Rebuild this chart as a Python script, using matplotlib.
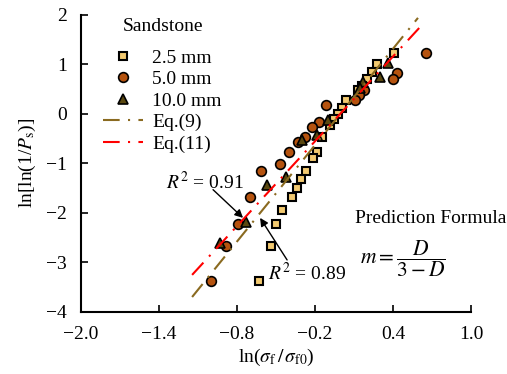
import matplotlib
matplotlib.use("Agg")
import matplotlib.pyplot as plt
import numpy as np

plt.rcParams['font.family'] = ['Liberation Serif', 'DejaVu Serif']
plt.rcParams['mathtext.fontset'] = 'stix'

# 2.5 mm
x25 = [0.408, 0.277, 0.238, 0.200, 0.162, 0.131, 0.038, 0.008, -0.023, -0.054, -0.085,
       -0.146, -0.185, -0.215, -0.269, -0.308, -0.338, -0.377, -0.454, -0.500, -0.538, -0.631]
y25 = [1.23, 1.01, 0.85, 0.71, 0.57, 0.48, 0.28, 0.12, 0.00, -0.10, -0.22,
       -0.46, -0.77, -0.89, -1.15, -1.31, -1.49, -1.68, -1.94, -2.22, -2.67, -3.37]
# 5.0 mm
x50 = [0.654, 0.431, 0.400, 0.177, 0.138, 0.108, -0.115, -0.169, -0.223, -0.277, -0.331,
       -0.400, -0.469, -0.615, -0.700, -0.792, -0.885, -1.000]
y50 = [1.23, 0.83, 0.71, 0.48, 0.38, 0.28, 0.18, -0.16, -0.26, -0.46, -0.57,
       -0.77, -1.01, -1.15, -1.68, -2.22, -2.67, -3.37]
# 10.0 mm
x10 = [0.362, 0.300, 0.169, 0.146, -0.100, -0.185, -0.300, -0.423, -0.569, -0.731, -0.931]
y10 = [1.03, 0.75, 0.65, 0.53, -0.12, -0.42, -0.53, -1.27, -1.43, -2.18, -2.61]

# fitted lines (slope, intercept, x range)
eq9_slope, eq9_int, eq9_x = 3.245, 0.02, [-1.146, 0.592]
eq11_slope, eq11_int, eq11_x = 2.855, 0.02, [-1.146, 0.623]

xticks = [-2.0, -1.4, -0.8, -0.2, 0.4, 1.0]
yticks = [-4, -3, -2, -1, 0, 1, 2]

FS = 14

fig = plt.figure(figsize=(5.07, 3.74), dpi=100)
ax = fig.add_axes([0.16, 0.166, 0.769, 0.794])

ax.plot(x25, y25, 's', ms=6.3, mfc='#f2c970', mec='black', mew=1.5, label='2.5 mm', zorder=3)
ax.plot(x50, y50, 'o', ms=7, mfc='#b5530f', mec='black', mew=1.2, label='5.0 mm', zorder=3)
ax.plot(x10, y10, '^', ms=7, mfc='#5a4810', mec='black', mew=1.2, label='10.0 mm', zorder=3)

xa = np.array(eq9_x)
ax.plot(xa, eq9_slope * xa + eq9_int, color='#8a6a20', lw=1.5,
        dashes=(8, 4, 1, 4), label='Eq.(9)', zorder=4)
xb = np.array(eq11_x)
ax.plot(xb, eq11_slope * xb + eq11_int, color='#ff0000', lw=1.5,
        dashes=(8, 4, 1, 4), label='Eq.(11)', zorder=4)

ax.set_xlim(-2.0, 1.0)
ax.set_ylim(-4, 2)
ax.set_xticks(xticks)
ax.set_xticklabels([f"{t:.1f}".replace('-', '\u2212') for t in xticks])
ax.set_yticks(yticks)
ax.set_yticklabels([str(t).replace('-', '\u2212') for t in yticks])
ax.tick_params(direction='in', length=5, width=1.2, labelsize=FS)
ax.tick_params(axis='x', pad=10)
ax.tick_params(axis='y', pad=10)
for s in ['top', 'right']:
    ax.spines[s].set_visible(False)
for s in ['left', 'bottom']:
    ax.spines[s].set_linewidth(1.5)

ax.set_xlabel(r'ln($\sigma_{\mathrm{f}}\,/\,\sigma_{\mathrm{f0}}$)', fontsize=FS, labelpad=3)
ax.set_ylabel(r'ln[ln(1/$P_{\mathrm{s}}$)]', fontsize=FS, labelpad=6)

# legend title as separate text
ax.text(-1.37, 1.76, 'Sandstone', fontsize=FS, ha='center', va='center')
leg = ax.legend(loc='upper left', bbox_to_anchor=(0.055, 0.885), frameon=False, fontsize=FS,
                handlelength=2.1, handletextpad=0.45, labelspacing=0.2,
                borderaxespad=0.0, borderpad=0.0)

# R^2 annotations
ax.text(-1.046, -1.37, r'$R^2$ = 0.91', fontsize=FS, ha='center', va='center')
ax.annotate('', xy=(-0.754, -2.10), xytext=(-0.985, -1.53),
            arrowprops=dict(arrowstyle='-|>', color='black', lw=1, mutation_scale=12,
                            shrinkA=0, shrinkB=0))
ax.text(-0.262, -3.21, r'$R^2$ = 0.89', fontsize=FS, ha='center', va='center')
ax.annotate('', xy=(-0.623, -2.10), xytext=(-0.415, -2.95),
            arrowprops=dict(arrowstyle='-|>', color='black', lw=1, mutation_scale=12,
                            shrinkA=0, shrinkB=0))

ax.text(0.108, -2.11, 'Prediction Formula', fontsize=FS, ha='left', va='center')
ax.text(0.146, -2.93, r'$m=\dfrac{D}{3-D}$', fontsize=15.5, ha='left', va='center')

fig.savefig('out.png', dpi=100)
